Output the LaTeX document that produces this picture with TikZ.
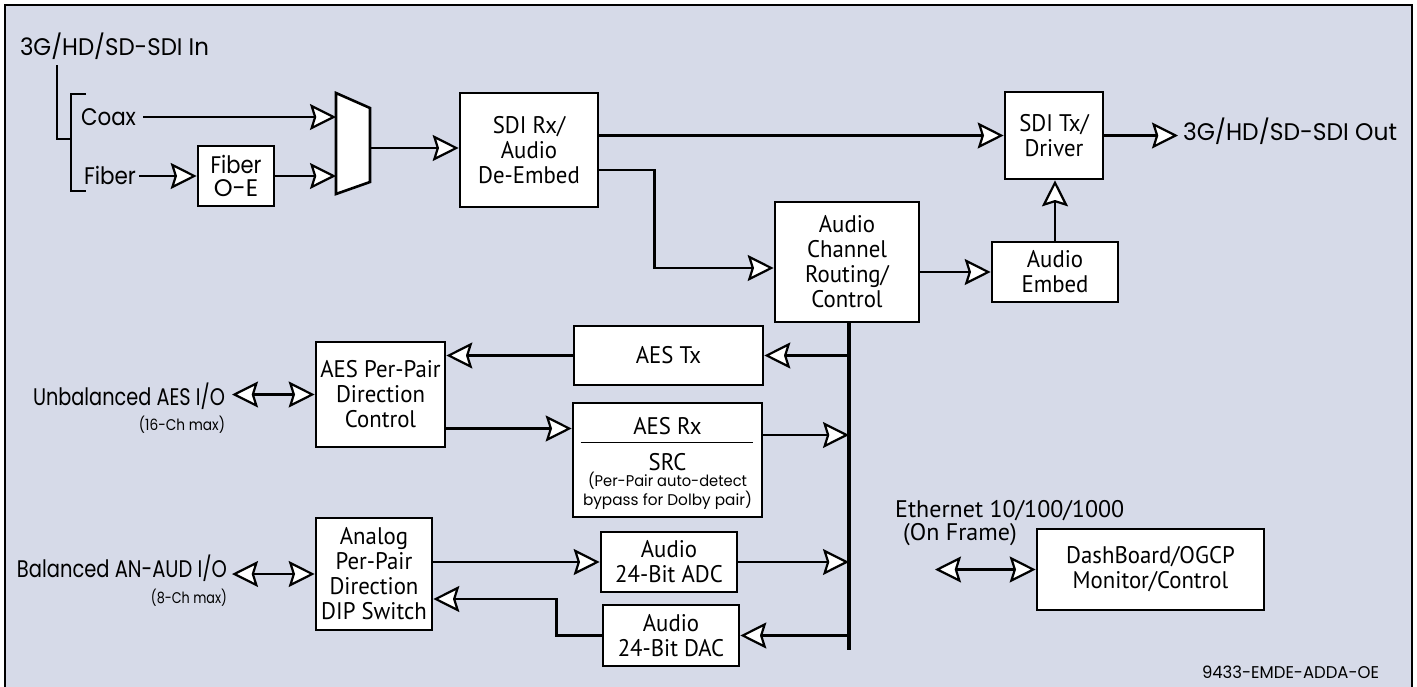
\documentclass[tikz,border=0pt]{standalone}
\usepackage{fontspec}
\usepackage{graphicx}
\setmainfont{PT Sans}
\newfontfamily\geofont{Poppins}
\newfontfamily\boxfont[FakeStretch=0.95]{PT Sans}
\newcommand\fitw[2]{\resizebox{#1}{\height}{#2}}
\usepackage{tikz}
\usetikzlibrary{arrows.meta}

\begin{document}
\begin{tikzpicture}[x=1pt,y=-1pt,line cap=rect,
    blk/.style={draw, fill=white, line width=2.6pt, inner sep=0, align=center,
      font=\boxfont\fontsize{24pt}{25pt}\selectfont},
    conn/.style={line width=2.6pt, line cap=butt,
      -{Stealth[length=26pt, width=26pt, inset=4pt, fill=white, line width=2.2pt]}},
    dconn/.style={conn,
      {Stealth[length=26pt, width=26pt, inset=4pt, fill=white, line width=2.2pt]}-{Stealth[length=26pt, width=26pt, inset=4pt, fill=white, line width=2.2pt]}},
    lbl/.style={inner sep=0, outer sep=0, font=\geofont\fontsize{24pt}{24pt}\selectfont},
    sml/.style={inner sep=0, outer sep=0, font=\geofont\fontsize{15.5pt}{15.5pt}\selectfont}]
  \definecolor{custcol_d6_da_e8}{RGB}{214, 218, 232}
  \definecolor{custcol_0_0_0}{RGB}{0, 0, 0}
  \useasboundingbox (0,0) rectangle (1417,686);
  \fill [custcol_d6_da_e8] (5,5) rectangle (1412,700);
  \draw [line width=2.2pt, custcol_0_0_0] (5,700) -- (5,5) -- (1412,5) -- (1412,700);
  % input side
  \node[lbl, anchor=base west] (sdiin) at (20,55) {\fitw{189pt}{3G/HD/SD-SDI In}};
  \draw [line width=1.2pt, line cap=butt] (57,65) -- (57,139) -- (71,139);
  \draw [line width=1.2pt, line cap=butt] (86,94) -- (71,94) -- (71,191) -- (86,191);
  \node[lbl, anchor=base west] (coax) at (81,125) {\fitw{55pt}{Coax}};
  \node[lbl, anchor=base west] (fiber) at (84,184) {\fitw{52pt}{Fiber}};
  \node[blk, minimum width=76, minimum height=60, font=\geofont\fontsize{24pt}{23pt}\selectfont] (fiberoe) at (236,176) {\fitw{51pt}{Fiber}\\O-E};
  \draw [line width=2.6pt, fill=white, line join=miter] (336,93) -- (370,108) -- (370,182) -- (336,194) -- cycle;
  \coordinate (muxa) at (336,117);
  \coordinate (muxb) at (336,176);
  \coordinate (muxout) at (370,148);
  % blocks
  \node[blk, minimum width=138, minimum height=114] (sdirx) at (529,150) {SDI Rx/\\Audio\\De-Embed};
  \node[blk, minimum width=98, minimum height=87] (sditx) at (1054,135.5) {SDI Tx/\\Driver};
  \node[blk, minimum width=144, minimum height=120] (routing) at (847,262) {Audio\\Channel\\Routing/\\Control};
  \node[blk, minimum width=126, minimum height=60] (embed) at (1055,272) {Audio\\Embed};
  \node[blk, minimum width=189, minimum height=59] (aestx) at (668.5,355.5) {AES Tx};
  \node[blk, minimum width=129, minimum height=105] (aesdir) at (380.5,394.5) {AES Per-Pair\\Direction\\Control};
  \node[blk, minimum width=189, minimum height=114] (aesrx) at (667.5,460) {};
  \node[inner sep=0, font=\boxfont\fontsize{24pt}{25pt}\selectfont] (aesrxtop) at ([yshift=-24pt]aesrx.north) {AES Rx};
  \draw [line width=1.2pt, line cap=butt] ([xshift=9pt,yshift=-41pt]aesrx.north west) -- ([xshift=-10pt,yshift=-41pt]aesrx.north east);
  \node[inner sep=0, font=\boxfont\fontsize{24pt}{25pt}\selectfont] (aesrxsrc) at ([yshift=-60pt]aesrx.north) {SRC};
  \node[sml, align=center, font=\geofont\fontsize{15.5pt}{16pt}\selectfont] (aesrxnote) at ([yshift=-89pt]aesrx.north) {\fitw{159pt}{(Per-Pair auto-detect}\\\fitw{169pt}{bypass for Dolby pair)}};
  \node[blk, minimum width=116, minimum height=112] (analog) at (374,574) {Analog\\Per-Pair\\Direction\\DIP Switch};
  \node[blk, minimum width=136, minimum height=60] (adc) at (669,562) {Audio\\24-Bit ADC};
  \node[blk, minimum width=136, minimum height=61] (dac) at (671,635.5) {Audio\\24-Bit DAC};
  \node[blk, minimum width=227, minimum height=81] (dash) at (1150.5,569.5) {DashBoard/OGCP\\Monitor/Control};
  % bus
  \coordinate (bustop) at (849,322);
  \coordinate (busbot) at (849,650);
  \draw [line width=4.5pt, line cap=butt] (bustop) -- (busbot);
  % outer labels
  \node[lbl, anchor=base west] (sdiout) at (1183,140) {\fitw{214pt}{3G/HD/SD-SDI Out}};
  \node[lbl, anchor=base east] (unbal) at (225,405) {\fitw{192pt}{Unbalanced AES I/O}};
  \node[sml, anchor=base east] (unbalmax) at (225,430) {\fitw{86pt}{(16-Ch max)}};
  \node[lbl, anchor=base east] (bal) at (227,577) {\fitw{210pt}{Balanced AN-AUD I/O}};
  \node[sml, anchor=base east] (balmax) at (227,603) {\fitw{76pt}{(8-Ch max)}};
  \node[inner sep=0, anchor=base west, font=\fontsize{24pt}{24pt}\selectfont] (eth) at (895,517) {Ethernet 10/100/1000};
  \node[inner sep=0, anchor=base west, font=\fontsize{24pt}{24pt}\selectfont] (ethframe) at (903,540) {(On Frame)};
  \coordinate (ethport) at (935,569.5);
  \node[sml, anchor=base east, font=\geofont\fontsize{17pt}{17pt}\selectfont] (figid) at (1379,678) {\fitw{177pt}{9433-EMDE-ADDA-OE}};
  % connectors
  \draw[conn] ([xshift=7pt]coax.east |- muxa) -- (muxa);
  \draw[conn] ([xshift=3pt]fiber.east |- fiberoe.west) -- (fiberoe.west);
  \draw[conn] (fiberoe.east) -- (muxb);
  \draw[conn] (muxout) -- (muxout -| sdirx.west);
  \draw[conn] (sdirx.east |- sditx.west) -- (sditx.west);
  \draw[conn] ([yshift=-20pt]sdirx.east) -- ++(55,0) |- ([yshift=-6pt]routing.west);
  \draw[conn] (routing.east |- embed.west) -- (embed.west);
  \draw[conn] (embed.north) -- (embed.north |- sditx.south);
  \draw[conn] (sditx.east) -- ([xshift=-5pt]sditx.east -| sdiout.west);
  \draw[conn] (bustop |- aestx.east) -- (aestx.east);
  \draw[conn] (aestx.west) -- (aestx.west -| aesdir.east);
  \draw[conn] ([yshift=-34pt]aesdir.east) -- ([yshift=-34pt]aesdir.east -| aesrx.west);
  \draw[conn] ([yshift=25pt]aesrx.east) -- ([yshift=25pt]aesrx.east -| bustop);
  \draw[conn] (analog.east |- adc.west) -- (adc.west);
  \draw[conn] (adc.east) -- (adc.east -| bustop);
  \draw[conn] (dac.east -| bustop) -- (dac.east);
  \draw[conn] (dac.west) -- ++(-45,0) |- ([yshift=-25pt]analog.east);
  \draw[dconn] ([xshift=7pt]aesdir.west -| unbal.east) -- (aesdir.west);
  \draw[dconn] ([xshift=5pt]analog.west -| bal.east) -- (analog.west);
  \draw[dconn] (ethport) -- (dash.west);
\end{tikzpicture}
\end{document}
